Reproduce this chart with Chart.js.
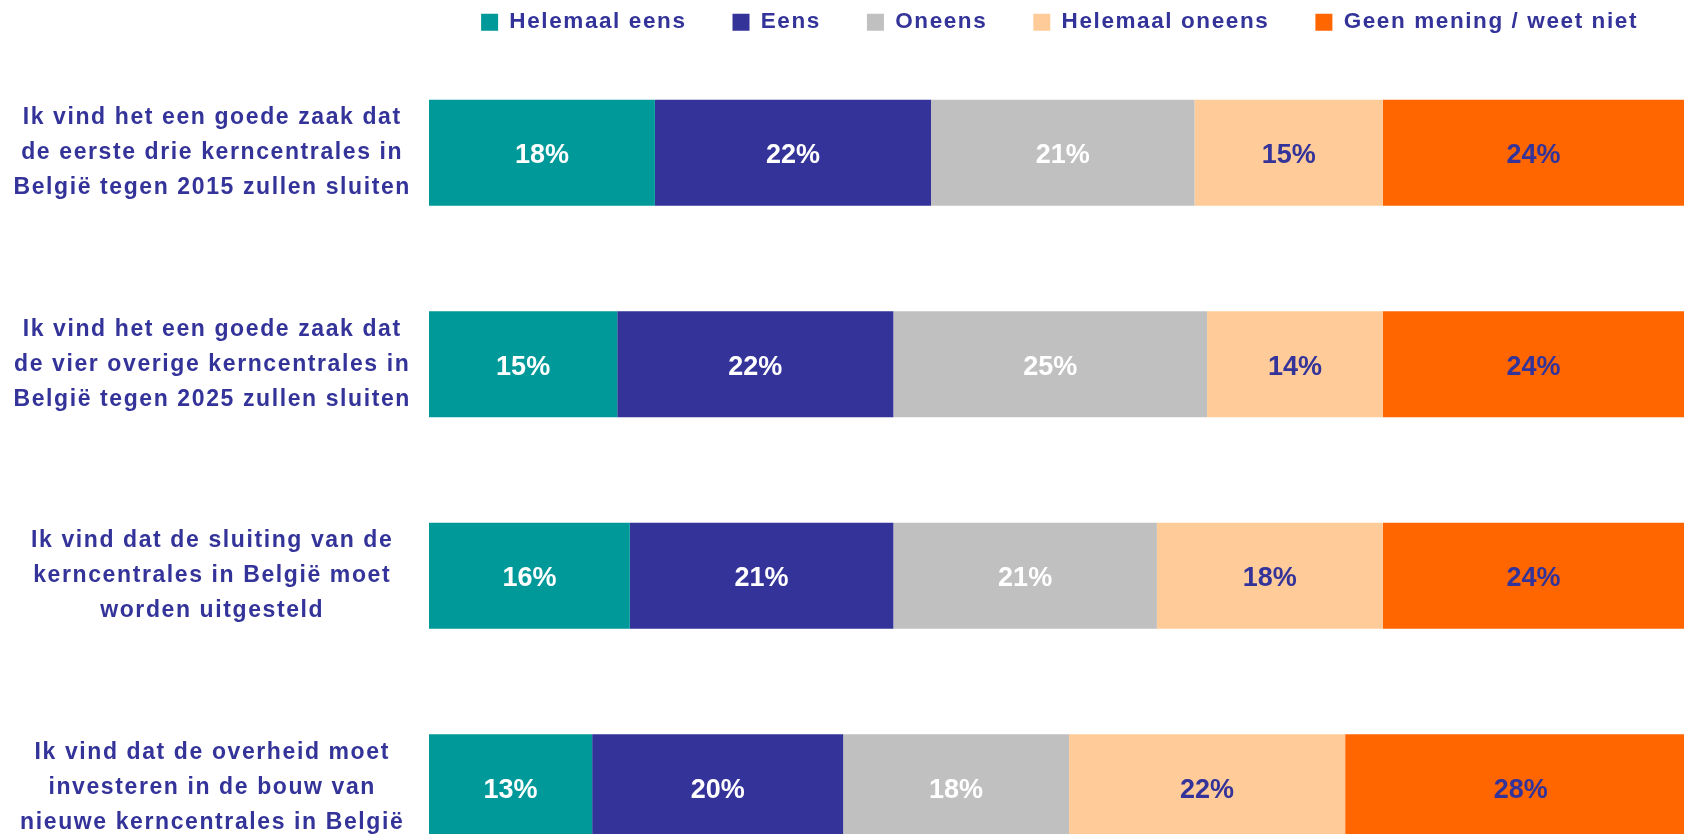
<!DOCTYPE html>
<html>
<head>
<meta charset="utf-8">
<script src="https://cdn.jsdelivr.net/npm/chart.js@4"></script>
<style>
  html, body { margin: 0; padding: 0; background: #fff; overflow: hidden; }
  #wrap { position: relative; width: 1684px; height: 893px; }
</style>
</head>
<body>
<div id="wrap"><canvas id="kernChart"></canvas></div>
<script>
// stellingen (rijen)
const categories = [
  ['Ik vind het een goede zaak dat', 'de eerste drie kerncentrales in', 'België tegen 2015 zullen sluiten'],
  ['Ik vind het een goede zaak dat', 'de vier overige kerncentrales in', 'België tegen 2025 zullen sluiten'],
  ['Ik vind dat de sluiting van de', 'kerncentrales in België moet', 'worden uitgesteld'],
  ['Ik vind dat de overheid moet', 'investeren in de bouw van', 'nieuwe kerncentrales in België']
];
const seriesNames = ['Helemaal eens', 'Eens', 'Oneens', 'Helemaal oneens', 'Geen mening / weet niet'];

// percentages per antwoord
const helemaalEens   = [18, 15, 16, 13];
const eens           = [22, 22, 21, 20];
const oneens         = [21, 25, 21, 18];
const helemaalOneens = [15, 14, 18, 22];
const geenMening     = [24, 24, 24, 28];

const colors = ['#009999', '#333399', '#C0C0C0', '#FFCC99', '#FF6600'];
const labelColors = ['#FFFFFF', '#FFFFFF', '#FFFFFF', '#333399', '#333399'];
const navy = '#333399';

const series = [helemaalEens, eens, oneens, helemaalOneens, geenMening];

// letterafstand zoals in het origineel
const spacing = {
  id: 'spacing',
  beforeLayout(chart) { chart.ctx.letterSpacing = '1.6px'; },
  beforeDraw(chart) { chart.ctx.letterSpacing = '1.6px'; }
};

// percentages in de balken
const barLabels = {
  id: 'barLabels',
  afterDatasetsDraw(chart) {
    const ctx = chart.ctx;
    ctx.save();
    ctx.letterSpacing = '0px';
    ctx.font = 'bold 27px "Liberation Sans", Arial, sans-serif';
    ctx.textAlign = 'center';
    ctx.textBaseline = 'middle';
    chart.data.datasets.forEach((ds, i) => {
      const meta = chart.getDatasetMeta(i);
      meta.data.forEach((bar, j) => {
        ctx.fillStyle = labelColors[i];
        ctx.fillText(ds.data[j] + '%', (bar.x + bar.base) / 2, bar.y + 3);
      });
    });
    ctx.restore();
  }
};

const ctx = document.getElementById('kernChart').getContext('2d');
const kernChart = new Chart(ctx, {
  type: 'bar',
  data: {
    labels: categories,
    datasets: series.map((values, i) => ({
      label: seriesNames[i],
      data: values,
      backgroundColor: colors[i],
      borderWidth: 0,
      barPercentage: 0.502,
      categoryPercentage: 1
    }))
  },
  options: {
    indexAxis: 'y',
    responsive: true,
    maintainAspectRatio: false,
    animation: false,
    layout: { autoPadding: false, padding: { top: -35, left: 0, right: 0, bottom: 0 } },
    scales: {
      x: {
        position: 'top',
        stacked: true,
        min: 0,
        max: 100,
        grid: { display: false },
        border: { display: false },
        ticks: { display: false },
        afterFit: s => { s.height = 3.5; }
      },
      y: {
        stacked: true,
        grid: { display: false },
        border: { display: false },
        ticks: {
          color: navy,
          crossAlign: 'center',
          padding: 10,
          autoSkip: false,
          font: { family: '"Liberation Sans", Arial, sans-serif', size: 23, weight: 'bold', lineHeight: 1.52 }
        },
        afterFit: s => {
          s.width = 429;
          s.paddingTop = 0;
          s.paddingBottom = 0;
        }
      }
    },
    plugins: {
      legend: {
        position: 'top',
        align: 'end',
        labels: {
          color: navy,
          boxWidth: 17,
          boxHeight: 17,
          padding: 46,
          font: { family: '"Liberation Sans", Arial, sans-serif', size: 22.5, weight: 'bold' }
        }
      },
      tooltip: { enabled: false }
    }
  },
  plugins: [spacing, barLabels]
});
</script>
</body>
</html>
